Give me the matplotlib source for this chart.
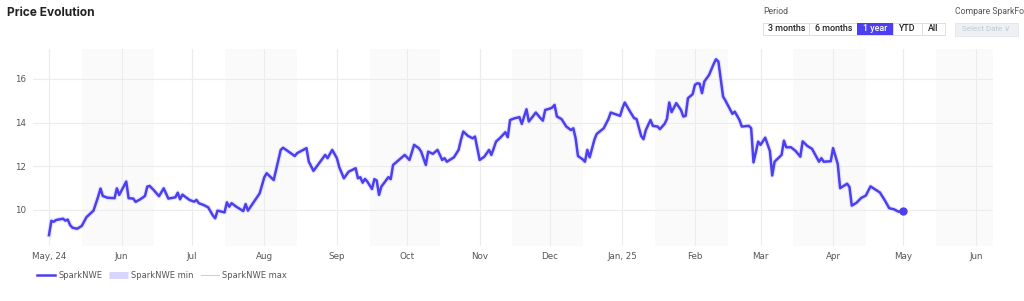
import pandas as pd
import matplotlib.pyplot as plt
from matplotlib.lines import Line2D
from matplotlib.patches import Rectangle

# Daily prices, grouped by month
dates_2024 = {
    "05": ["01", "02", "03", "04", "07", "08", "09", "10", "11", "13", "15", "17", "20", "22", "23", "24", "26", "29", "30", "31"],
    "06": ["03", "04", "06", "07", "09", "11", "12", "13", "15", "17", "19", "21", "24", "25", "26", "27", "28", "30"],
    "07": ["02", "03", "04", "06", "08", "10", "11", "12", "15", "16", "17", "18", "20", "23", "24", "25", "30"],
    "08": ["01", "02", "05", "08", "09", "14", "15", "19", "20", "22", "27", "28", "30"],
    "09": ["01", "02", "04", "06", "09", "10", "11", "12", "13", "14", "16", "17", "18", "19", "20", "23", "24", "25", "28", "30"],
    "10": ["02", "04", "06", "07", "09", "10", "12", "14", "16", "17", "18", "21", "23", "24", "25", "27", "29", "30", "31"],
    "11": ["01", "03", "05", "06", "08", "10", "12", "13", "14", "16", "18", "19", "21", "22", "25", "27", "28", "29"],
    "12": ["01", "02", "03", "04", "06", "08", "10", "11", "12", "13", "15", "16", "17", "18", "20", "21", "24", "26", "27", "30", "31"],
}
dates_2025 = {
    "01": ["01", "02", "04", "06", "07", "09", "10", "11", "13", "14", "16", "17", "19", "20", "21", "22", "24", "26", "27", "28", "29", "31"],
    "02": ["01", "02", "03", "04", "05", "07", "09", "10", "11", "13", "14", "17", "18", "20", "21", "24", "25", "26", "28"],
    "03": ["01", "03", "05", "06", "07", "10", "11", "12", "14", "16", "18", "19", "21", "23", "26", "27", "28", "31"],
    "04": ["01", "03", "04", "07", "08", "09", "11", "13", "15", "17", "21", "23", "25", "27", "29"],
    "05": ["01"],
}

prices = [
    # May 2024
    8.85, 9.50, 9.46, 9.54, 9.60, 9.51, 9.56, 9.31, 9.19, 9.14, 9.27, 9.67, 9.97, 10.61, 10.98, 10.64, 10.56, 10.54, 10.99, 10.69,
    # Jun
    11.30, 10.54, 10.52, 10.37, 10.49, 10.64, 11.07, 11.10, 10.88, 10.63, 10.99, 10.52, 10.58, 10.79, 10.49, 10.70, 10.62, 10.46,
    # Jul
    10.38, 10.46, 10.31, 10.23, 10.12, 9.75, 9.62, 9.97, 9.89, 10.35, 10.15, 10.31, 10.15, 9.95, 10.27, 9.97, 10.76,
    # Aug
    11.50, 11.68, 11.37, 12.75, 12.85, 12.47, 12.60, 12.83, 12.21, 11.79, 12.52, 12.37, 12.75,
    # Sep
    12.37, 11.96, 11.45, 11.75, 11.91, 11.45, 11.50, 11.25, 11.42, 11.30, 10.96, 11.41, 11.35, 10.69, 11.07, 11.50, 11.41, 12.06, 12.34, 12.52,
    # Oct
    12.29, 12.98, 12.83, 12.67, 12.06, 12.67, 12.57, 12.75, 12.29, 12.37, 12.21, 12.41, 12.75, 13.21, 13.59, 13.39, 13.28, 13.36, 12.83,
    # Nov
    12.29, 12.44, 12.75, 12.52, 13.13, 13.33, 13.56, 13.33, 14.12, 14.20, 14.25, 13.94, 14.61, 14.05, 14.46, 14.20, 14.09, 14.58,
    # Dec
    14.64, 14.69, 14.81, 14.28, 14.16, 13.82, 13.66, 13.74, 13.28, 12.47, 12.32, 12.21, 12.75, 12.41, 13.21, 13.48, 13.74, 14.16, 14.46, 14.35, 14.31,
    # Jan 2025
    14.66, 14.92, 14.55, 14.20, 14.17, 13.39, 13.24, 13.66, 14.12, 13.85, 13.82, 13.70, 13.94, 14.16, 14.92, 14.48, 14.89, 14.58, 14.28, 14.31, 15.12, 15.30,
    # Feb
    15.73, 15.80, 15.78, 15.35, 15.88, 16.18, 16.69, 16.90, 16.79, 15.19, 15.01, 14.40, 14.50, 14.12, 13.82, 13.85, 13.74, 12.18, 13.13,
    # Mar
    12.98, 13.31, 12.70, 11.58, 12.21, 12.52, 13.17, 12.87, 12.87, 12.70, 12.44, 13.14, 12.93, 12.80, 12.21, 12.37, 12.21, 12.23,
    # Apr
    12.83, 12.10, 11.00, 11.20, 11.05, 10.20, 10.33, 10.55, 10.66, 11.08, 10.80, 10.46, 10.08, 10.03, 9.92,
    # May
    9.97,
]

date_strings = []
for year, months in (("2024", dates_2024), ("2025", dates_2025)):
    for month, days in months.items():
        date_strings += [f"{year}-{month}-{d}" for d in days]
dates = pd.to_datetime(date_strings)

y_ticks = [10, 12, 14, 16]
month_ticks = pd.date_range("2024-05-01", "2025-06-01", freq="MS")
month_labels = [m.strftime("%b") for m in month_ticks]
month_labels[0] = "May, 24"
month_labels[8] = "Jan, 25"
shade_starts = pd.to_datetime(["2024-05-15", "2024-07-15", "2024-09-15", "2024-11-15",
                               "2025-01-15", "2025-03-15", "2025-05-15"])

line_color = "#4b3ff0"
band_color = "#d8d4fb"
ui_font = ["Roboto", "DejaVu Sans"]

fig = plt.figure(figsize=(10.24, 3.01), dpi=100)
ax = fig.add_axes([33 / 1024, 1 - 246 / 301, (992.7 - 33) / 1024, (246 - 49) / 301])

start = pd.Timestamp("2024-05-01")
ax.set_xlim(start - pd.Timedelta(days=6.84), start + pd.Timedelta(days=403.2))
ax.set_ylim(8.35, 17.37)

for s in shade_starts:
    ax.axvspan(s, s + pd.DateOffset(months=1), color="#fafafa", lw=0, zorder=0)

ax.set_xticks(month_ticks)
ax.set_xticklabels(month_labels)
ax.set_yticks(y_ticks)
ax.grid(True, color="#ececec", lw=0.8, zorder=1)
ax.set_axisbelow(True)
for sp in ax.spines.values():
    sp.set_visible(False)
ax.tick_params(length=0, labelsize=6.3, colors="#555555", pad=4)
ax.tick_params(axis="y", pad=5)

# min / max band hugging the line, then the main series
ax.plot(dates, prices, color=band_color, lw=3.4, alpha=0.6, solid_joinstyle="round", zorder=2)
ax.plot(dates, prices, color=line_color, lw=1.8, solid_joinstyle="round", zorder=3)
ax.plot(dates[-1:], prices[-1:], "o", color=line_color, ms=5, zorder=4)

handles = [
    Line2D([], [], color=line_color, lw=1.8),
    Line2D([], [], color=band_color, lw=5, solid_capstyle="butt"),
    Line2D([], [], color="#cfcaf8", lw=0.8),
]
fig.legend(handles, ["SparkNWE", "SparkNWE min", "SparkNWE max"], loc="center left",
           bbox_to_anchor=(29 / 1024, 1 - 275 / 301), ncol=3, frameon=False,
           fontsize=6, handlelength=2.2, handletextpad=0.4, columnspacing=0.85,
           labelcolor="#555555")

# header
fig.text(7 / 1024, 1 - 13 / 301, "Price Evolution", fontsize=8.6, fontweight="bold",
         family="Inter", color="#222222", va="center")
fig.text(763 / 1024, 1 - 12 / 301, "Period", fontsize=6.2, family=ui_font,
         color="#555555", va="center")
fig.text(955 / 1024, 1 - 12 / 301, "Compare SparkFo", fontsize=6.2, family=ui_font,
         color="#555555", va="center")

buttons = [("3 months", 763.3, 809.3), ("6 months", 809.3, 857.3), ("1 year", 857.3, 892.7),
           ("YTD", 892.7, 921.7), ("All", 921.7, 945)]
y0, y1 = 22.7, 35
fig.patches.append(Rectangle((763.3 / 1024, 1 - y1 / 301), (945 - 763.3) / 1024, (y1 - y0) / 301,
                             transform=fig.transFigure, facecolor="white", edgecolor="#dddddd", lw=0.7))
for label, xa, xb in buttons:
    active = label == "1 year"
    if active:
        fig.patches.append(Rectangle((xa / 1024, 1 - y1 / 301), (xb - xa) / 1024, (y1 - y0) / 301,
                                     transform=fig.transFigure, facecolor=line_color, edgecolor="none"))
    elif xa > 763.3:
        fig.add_artist(Line2D([xa / 1024, xa / 1024], [1 - y1 / 301, 1 - y0 / 301],
                              color="#dddddd", lw=0.7, transform=fig.transFigure))
    fig.text((xa + xb) / 2 / 1024, 1 - (y0 + y1) / 2 / 301, label, fontsize=6.4, family=ui_font,
             fontweight="medium", color="white" if active else "#222222", ha="center", va="center")

fig.patches.append(Rectangle((955 / 1024, 1 - 36 / 301), (1017.7 - 955) / 1024, 13.3 / 301,
                             transform=fig.transFigure, facecolor="#edf1f6", edgecolor="#e3e8ee", lw=0.7))
fig.text(986 / 1024, 1 - 29.3 / 301, "Select Date \u2228", fontsize=5.8, family=ui_font,
         color="#bfcad6", ha="center", va="center")

fig.savefig("out.png", dpi=100)
